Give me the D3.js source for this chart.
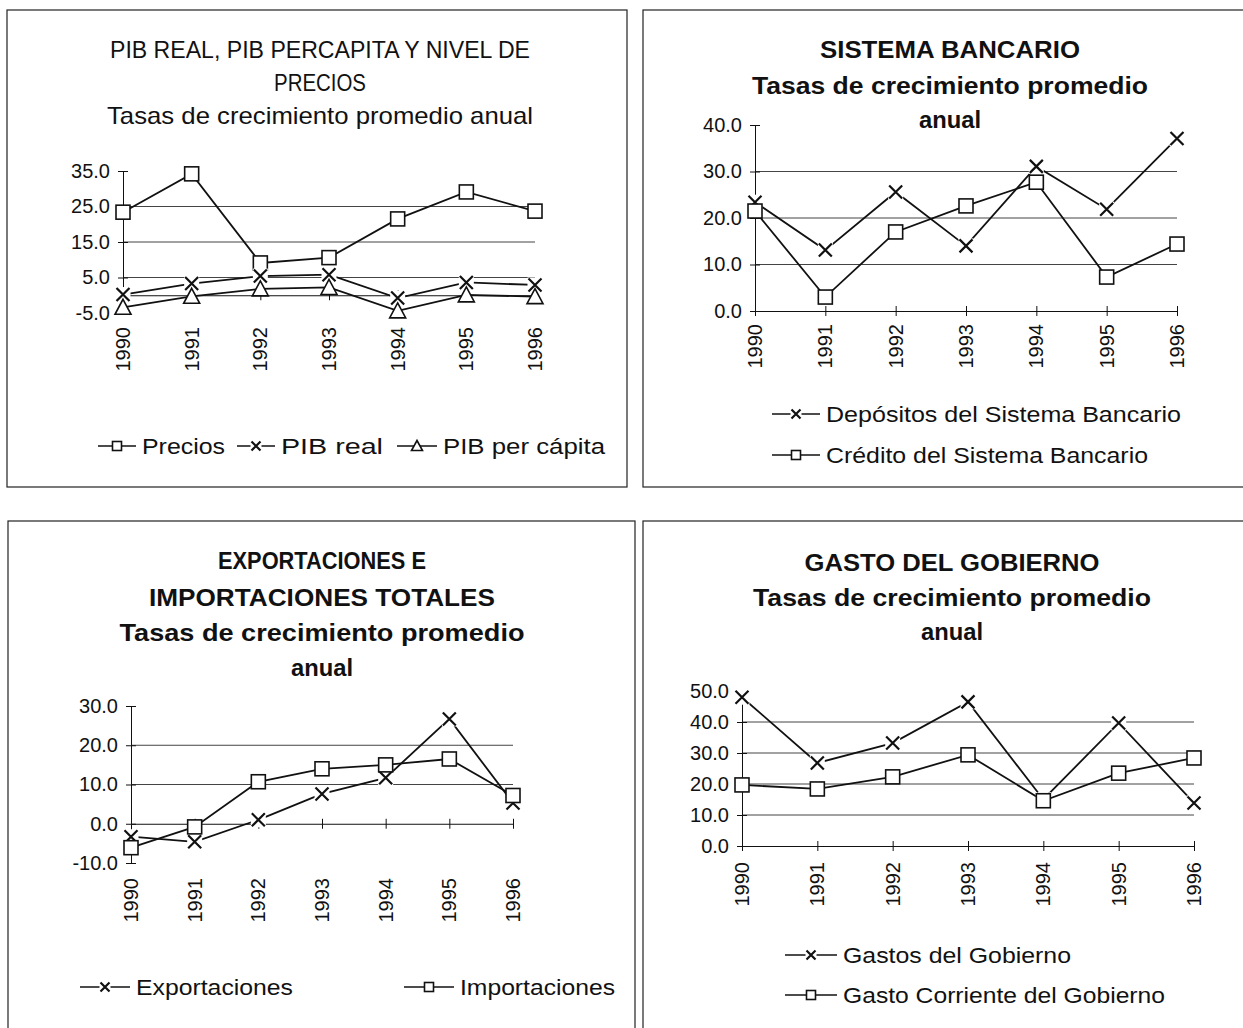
<!DOCTYPE html>
<html>
<head>
<meta charset="utf-8">
<script src="https://cdn.jsdelivr.net/npm/d3@7"></script>
<style>
  body { margin: 0; background: #fff; }
  svg { display: block; font-family: Arial, "Liberation Sans", sans-serif; }
</style>
</head>
<body>
<svg id="chart" width="1243" height="1028"></svg>
<script>
const years = ["1990", "1991", "1992", "1993", "1994", "1995", "1996"];

const precios = [23.4, 34.2, 9.1, 10.6, 21.5, 29.1, 23.7];
const pibReal = [0.2, 3.3, 5.4, 5.8, -0.8, 3.6, 2.9];
const pibPerCapita = [-3.4, -0.3, 1.8, 2.2, -4.4, 0.1, -0.4];

const depositos = [23.4, 13.1, 25.6, 14.0, 31.1, 21.9, 37.1];
const credito = [21.5, 3.0, 17.0, 22.6, 27.7, 7.3, 14.4];

const exportaciones = [-3.3, -4.6, 1.0, 7.6, 11.7, 26.7, 5.3];
const importaciones = [-6.1, -0.8, 10.7, 14.0, 15.0, 16.5, 7.2];

const gastos = [48.0, 26.8, 33.2, 46.5, 15.0, 39.7, 13.9];
const gastoCorriente = [19.7, 18.4, 22.3, 29.4, 14.6, 23.5, 28.4];

const ticksPib = [-5, 5, 15, 25, 35];
const ticksBanco = [0, 10, 20, 30, 40];
const ticksComercio = [-10, 0, 10, 20, 30];
const ticksGasto = [0, 10, 20, 30, 40, 50];

const svg = d3.select("#chart");
const fmt = (d) => d.toFixed(1);

function drawMarker(g, type, size) {
    const h = size / 2;
    if (type === "square") {
        g.append("rect")
            .attr("x", -h).attr("y", -h)
            .attr("width", size).attr("height", size)
            .attr("fill", "#fff").attr("stroke", "#111").attr("stroke-width", 1.6);
    } else if (type === "cross") {
        g.append("rect")
            .attr("x", -h - 1).attr("y", -h - 1)
            .attr("width", size + 2).attr("height", size + 2)
            .attr("fill", "#fff");
        g.append("path")
            .attr("d", `M${-h},${-h}L${h},${h}M${-h},${h}L${h},${-h}`)
            .attr("stroke", "#111").attr("stroke-width", 2.2).attr("fill", "none");
    } else {
        g.append("path")
            .attr("d", `M0,${-h - 1}L${h + 1},${h}L${-h - 1},${h}Z`)
            .attr("fill", "#fff").attr("stroke", "#111").attr("stroke-width", 1.6);
    }
}

function drawPanel(p) {
    const g = svg.append("g");

    g.append("rect")
        .attr("x", p.box[0]).attr("y", p.box[1])
        .attr("width", p.box[2]).attr("height", p.box[3])
        .attr("fill", "none").attr("stroke", "#222").attr("stroke-width", 1.2);

    p.titles.forEach((t) => {
        const txt = g.append("text")
            .attr("x", p.cx).attr("y", t.y)
            .attr("text-anchor", "middle")
            .attr("font-size", 24)
            .attr("font-weight", t.bold ? "bold" : "normal")
            .attr("fill", "#111")
            .text(t.text);
        if (t.width) txt.attr("textLength", t.width).attr("lengthAdjust", "spacingAndGlyphs");
    });

    const x = d3.scalePoint().domain(years).range(p.xRange);
    const y = d3.scaleLinear().domain(p.yDomain).range(p.yRange);
    const [dMin, dMax] = p.yDomain;

    g.append("g")
        .selectAll("line")
        .data(p.ticks.filter((t) => t > dMin && t < dMax && t !== p.axisAt))
        .join("line")
        .attr("x1", p.xRange[0]).attr("x2", p.xRange[1])
        .attr("y1", (d) => y(d)).attr("y2", (d) => y(d))
        .attr("stroke", "#444").attr("stroke-width", 1);

    const yAxis = g.append("g")
        .attr("transform", `translate(${p.xRange[0]},0)`)
        .call(d3.axisLeft(y).tickValues(p.ticks).tickFormat(fmt).tickSize(5).tickSizeOuter(0).tickPadding(8));
    yAxis.selectAll(".tick line").attr("x1", 5).attr("stroke", "#111");
    yAxis.select(".domain").attr("stroke", "#111");
    yAxis.selectAll(".tick text")
        .attr("font-size", 20).attr("font-family", "Arial, 'Liberation Sans', sans-serif").attr("fill", "#111");

    const xAxis = g.append("g")
        .attr("transform", `translate(0,${y(p.axisAt)})`)
        .call(d3.axisBottom(x).tickFormat("").tickSize(5).tickSizeOuter(0));
    xAxis.selectAll(".tick line").attr("y1", -5).attr("stroke", "#111");
    xAxis.select(".domain").attr("stroke", "#111");

    g.append("g")
        .selectAll("text")
        .data(years)
        .join("text")
        .attr("transform", (d) => `translate(${x(d)},${p.labelTop}) rotate(-90)`)
        .attr("text-anchor", "end")
        .attr("dy", "0.35em")
        .attr("font-size", 20)
        .attr("fill", "#111")
        .text((d) => d);

    const line = d3.line().x((d, i) => x(years[i])).y((d) => y(d));

    p.series.forEach((s) => {
        g.append("path")
            .datum(s.values)
            .attr("d", line)
            .attr("fill", "none").attr("stroke", "#111").attr("stroke-width", 1.8);
    });

    p.series.forEach((s) => {
        s.values.forEach((v, i) => {
            const m = g.append("g").attr("transform", `translate(${x(years[i])},${y(v)})`);
            drawMarker(m, s.marker, s.marker === "cross" ? 13 : 14);
        });
    });

    p.legend.forEach((l) => {
        const lg = g.append("g").attr("transform", `translate(${l.x},${l.y})`);
        lg.append("line")
            .attr("x1", 0).attr("x2", l.seg)
            .attr("stroke", "#111").attr("stroke-width", 1.5);
        const m = lg.append("g").attr("transform", `translate(${l.seg / 2},0)`);
        drawMarker(m, l.marker, 9);
        lg.append("text")
            .attr("x", l.seg + 6)
            .attr("dy", "0.35em")
            .attr("font-size", 22)
            .attr("fill", "#111")
            .attr("textLength", l.width).attr("lengthAdjust", "spacingAndGlyphs")
            .text(l.label);
    });
}

drawPanel({
    box: [7, 10, 620, 477],
    cx: 320,
    titles: [
        { text: "PIB REAL, PIB PERCAPITA Y NIVEL DE", y: 58, width: 420 },
        { text: "PRECIOS", y: 91, width: 92 },
        { text: "Tasas de crecimiento promedio anual", y: 124, width: 426 },
    ],
    xRange: [123, 535],
    yDomain: [-5, 35],
    yRange: [313, 171],
    ticks: ticksPib,
    axisAt: 0,
    labelTop: 327,
    series: [
        { values: precios, marker: "square" },
        { values: pibReal, marker: "cross" },
        { values: pibPerCapita, marker: "triangle" },
    ],
    legend: [
        { x: 98, y: 446, seg: 38, marker: "square", label: "Precios", width: 83 },
        { x: 237, y: 446, seg: 38, marker: "cross", label: "PIB real", width: 102 },
        { x: 397, y: 446, seg: 40, marker: "triangle", label: "PIB per cápita", width: 162 },
    ],
});

drawPanel({
    box: [643, 10, 620, 477],
    cx: 950,
    titles: [
        { text: "SISTEMA BANCARIO", y: 58, width: 260, bold: true },
        { text: "Tasas de crecimiento promedio", y: 94, width: 396, bold: true },
        { text: "anual", y: 128, width: 62, bold: true },
    ],
    xRange: [755, 1177],
    yDomain: [0, 40],
    yRange: [311, 125],
    ticks: ticksBanco,
    axisAt: 0,
    labelTop: 324,
    series: [
        { values: depositos, marker: "cross" },
        { values: credito, marker: "square" },
    ],
    legend: [
        { x: 772, y: 414, seg: 48, marker: "cross", label: "Depósitos del Sistema Bancario", width: 355 },
        { x: 772, y: 455, seg: 48, marker: "square", label: "Crédito del Sistema Bancario", width: 322 },
    ],
});

drawPanel({
    box: [8, 521, 627, 520],
    cx: 322,
    titles: [
        { text: "EXPORTACIONES E", y: 569, width: 208, bold: true },
        { text: "IMPORTACIONES TOTALES", y: 606, width: 346, bold: true },
        { text: "Tasas de crecimiento promedio", y: 641, width: 405, bold: true },
        { text: "anual", y: 676, width: 62, bold: true },
    ],
    xRange: [131, 513],
    yDomain: [-10, 30],
    yRange: [863, 706],
    ticks: ticksComercio,
    axisAt: 0,
    labelTop: 878,
    series: [
        { values: exportaciones, marker: "cross" },
        { values: importaciones, marker: "square" },
    ],
    legend: [
        { x: 80, y: 987, seg: 50, marker: "cross", label: "Exportaciones", width: 157 },
        { x: 404, y: 987, seg: 50, marker: "square", label: "Importaciones", width: 155 },
    ],
});

drawPanel({
    box: [643, 521, 620, 520],
    cx: 952,
    titles: [
        { text: "GASTO DEL GOBIERNO", y: 571, width: 295, bold: true },
        { text: "Tasas de crecimiento promedio", y: 606, width: 398, bold: true },
        { text: "anual", y: 640, width: 62, bold: true },
    ],
    xRange: [742, 1194],
    yDomain: [0, 50],
    yRange: [846, 691],
    ticks: ticksGasto,
    axisAt: 0,
    labelTop: 862,
    series: [
        { values: gastos, marker: "cross" },
        { values: gastoCorriente, marker: "square" },
    ],
    legend: [
        { x: 785, y: 955, seg: 52, marker: "cross", label: "Gastos del Gobierno", width: 228 },
        { x: 785, y: 995, seg: 52, marker: "square", label: "Gasto Corriente del Gobierno", width: 322 },
    ],
});
</script>
</body>
</html>
